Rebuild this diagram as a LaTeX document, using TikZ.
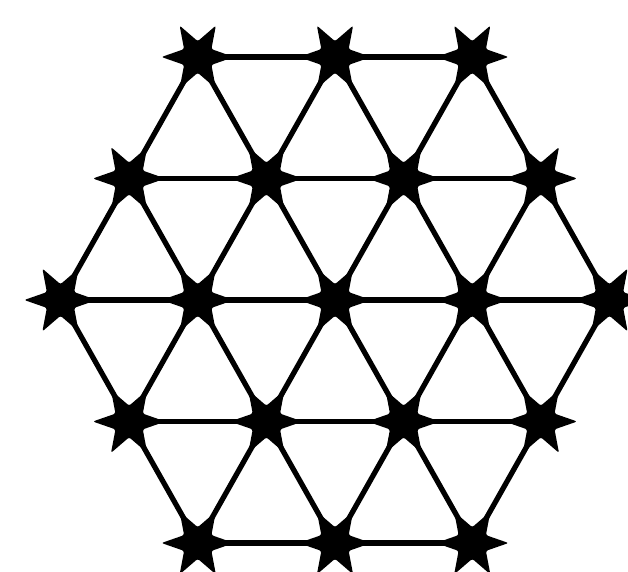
\documentclass[tikz,border=0pt]{standalone}
\usetikzlibrary{shapes.geometric}

\tikzset{
  junction/.style={star, star points=6, star point ratio=2.3, shape border rotate=30,
    minimum size=1.45cm, inner sep=0pt, outer sep=0pt, fill=black, draw=none,
    rounded corners=1.2pt},
  strand/.style={line width=0.105cm, black, line cap=round}
}

\begin{document}
\begin{tikzpicture}
  % frame of the picture
  \def\dx{2.745} \def\dy{2.43}
  \clip (0,0) rectangle (12.56,11.42);
  \useasboundingbox (0,0) rectangle (12.56,11.42);
  \begin{scope}[shift={(6.70,5.42)}]
    % junctions, row by row from the top
    \foreach \r/\n in {1/3,2/4,3/5,4/4,5/3} {
      \foreach \k in {1,...,\n} {
        \node[junction] (n\r\k) at ({(\k-(\n+1)/2)*\dx},{(3-\r)*\dy}) {};
      }
    }
    % horizontal strands
    \foreach \r/\n in {1/3,2/4,3/5,4/4,5/3} {
      \foreach \k in {2,...,\n} {
        \pgfmathtruncatemacro{\p}{\k-1}
        \draw[strand] (n\r\p.center) -- (n\r\k.center);
      }
    }
    % diagonal strands: short row s, long row l
    \foreach \s/\l/\n in {1/2/3,2/3/4,5/4/3,4/3/4} {
      \foreach \k in {1,...,\n} {
        \pgfmathtruncatemacro{\q}{\k+1}
        \draw[strand] (n\s\k.center) -- (n\l\k.center);
        \draw[strand] (n\s\k.center) -- (n\l\q.center);
      }
    }
  \end{scope}
\end{tikzpicture}
\end{document}
